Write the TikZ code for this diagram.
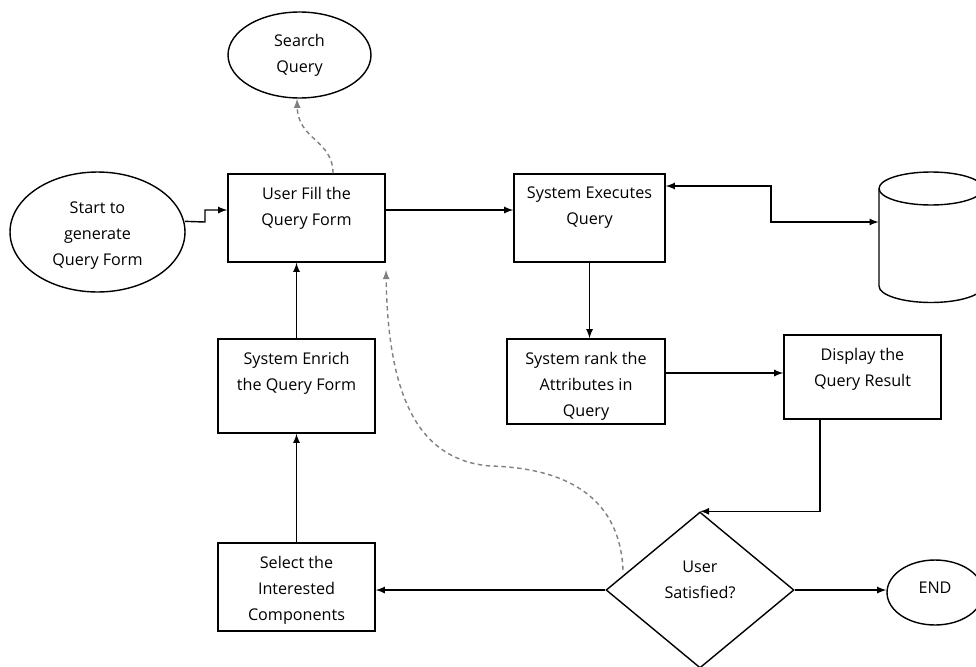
\documentclass[tikz,border=0pt]{standalone}
\usepackage{fontspec}
\setmainfont{Open Sans}
\usetikzlibrary{shapes.geometric}

\begin{document}
\begin{tikzpicture}[x=0.02cm,y=-0.02cm,
  every node/.style={font=\fontsize{9.2}{14.8}\selectfont},
  procbox/.style={draw,line width=0.8pt,minimum width=3.14cm,minimum height=1.76cm,inner sep=0},
  term/.style={draw,ellipse,line width=0.8pt,inner sep=0,align=center},
  boxtext/.style={anchor=north,align=center,inner sep=0,yshift=-0.27cm},
  flow/.style={line width=0.8pt,>=latex,->},
  hint/.style={gray,line width=0.8pt,dash pattern=on 2.5pt off 2pt,>=latex,->}]

\useasboundingbox (0,0) rectangle (976,666);
\clip (0,0) rectangle (976,666);

\node[term,minimum width=2.86cm,minimum height=1.72cm] (search) at (299.5,55) {Search\\Query};
\node[term,minimum width=3.5cm,minimum height=2.4cm] (start) at (97.5,232) {};
\node[align=center,inner sep=0] (startT) at (97.5,236) {Start to\\generate\\Query Form};
\node[term,minimum width=1.92cm,minimum height=1.3cm] (stop) at (935,592.5) {};
\node[inner sep=0] (stopT) at (935,588) {END};

\node[procbox] (fill) at (306.5,218) {};
\node[boxtext] (fillT) at (fill.north) {User Fill the\\Query Form};
\node[procbox,minimum width=3.02cm] (exec) at (589.5,218) {};
\node[boxtext] (execT) at (exec.north) {System Executes\\Query};
\node[procbox,minimum width=3.16cm,minimum height=1.7cm] (rank) at (586,381.5) {};
\node[boxtext] (rankT) at (rank.north) {System rank the\\Attributes in\\Query};
\node[procbox,minimum height=1.68cm] (disp) at (862.5,377) {};
\node[boxtext] (dispT) at (disp.north) {Display the\\Query Result};
\node[procbox,minimum height=1.88cm] (enrich) at (296.5,386) {};
\node[boxtext] (enrichT) at (enrich.north) {System Enrich\\the Query Form};
\node[procbox] (sel) at (296.5,587) {};
\node[boxtext] (selT) at (sel.north) {Select the\\Interested\\Components};

\node[draw,diamond,line width=0.8pt,minimum width=3.76cm,minimum height=3.12cm,inner sep=0] (sat) at (700,590) {};
\node[align=center,inner sep=0] (satT) at (700,580) {User\\Satisfied?};

\node[minimum width=2.08cm,minimum height=2.62cm,inner sep=0] (db) at (931,237.5) {};
\draw[line width=0.8pt] (931,188.5) ellipse (1.04cm and 0.33cm);
\draw[line width=0.8pt] (879,188.5) -- (879,286) arc (180:360:1.04cm and 0.33cm) -- (983,188.5);

\coordinate (back) at (623,570);
\coordinate (backend) at (386,270);

\draw[flow] (start.7 -| 185,0) -- (205,222) |- (fill.west |- 0,210);
\draw[flow] (fill.east |- 0,210) -- (exec.west |- 0,210);
\draw[flow,<->] (exec.east |- 0,186) -| (771,222) -- (db.west |- 0,222);
\draw[flow] (exec.south) -- (exec.south |- rank.north);
\draw[flow] (rank.east |- 0,373) -- (disp.west |- 0,373);
\draw[flow] (disp.south -| 820,0) |- (sat.north);
\draw[flow] (sat.west) -- (sat.west -| sel.east);
\draw[flow] (sat.east) -- (sat.east -| stop.west);
\draw[flow] (sel.north) -- (enrich.south);
\draw[flow] (enrich.north) -- (enrich.north |- fill.south);

\draw[hint] (fill.north -| 333,0) .. controls (333,140) and (298,140) .. (search.south -| 297,0);
\draw[hint] (back) .. controls (620,500) and (570,468) .. (490,466) .. controls (420,460) and (388,400) .. (backend);

\end{tikzpicture}
\end{document}
